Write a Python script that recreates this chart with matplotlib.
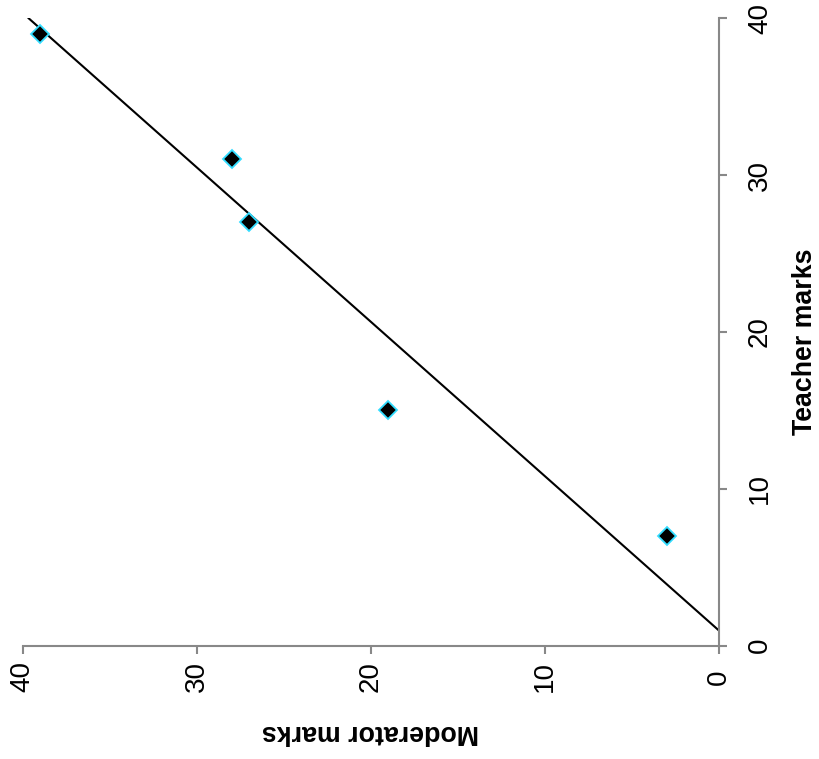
import numpy as np
import matplotlib
matplotlib.use("Agg")
from matplotlib import pyplot as plt

# Teacher vs moderator marks (chart shown turned 90 degrees)
teacher = [39, 31, 27, 15, 7]
moderator = [39, 28, 27, 19, 3]
ticks = [0, 10, 20, 30, 40]

plt.rcParams['font.family'] = ['Liberation Sans', 'DejaVu Sans']

fig = plt.figure(figsize=(8.2, 7.59), dpi=100)
ax = fig.add_axes([0.0277, 0.1493, 0.8491, 0.8266])

# linear trendline moderator = a*teacher + b, drawn over the teacher range
pend, orden = np.polyfit(teacher, moderator, 1)
t_line = np.array([0, 40])
ax.plot(pend * t_line + orden, t_line, color='black', lw=1.5, zorder=2)

ax.plot(moderator, teacher, linestyle='none', marker='D', markersize=9.5,
        markerfacecolor='black', markeredgecolor='#33DDFF', markeredgewidth=1.3,
        zorder=3, clip_on=False)

ax.set_xlim(40, 0)
ax.set_ylim(0, 40)
ax.set_xticks(ticks)
ax.set_yticks(ticks)

ax.spines['top'].set_visible(False)
ax.spines['left'].set_visible(False)
for s in ['right', 'bottom']:
    ax.spines[s].set_color('#888888')
    ax.spines[s].set_linewidth(1.5)

ax.yaxis.tick_right()
ax.tick_params(axis='both', direction='out', length=5.5, width=1.5, color='#888888',
               labelsize=20)
for lab in ax.get_xticklabels() + ax.get_yticklabels():
    lab.set_rotation(90)
    lab.set_va('center')
    lab.set_ha('center')
ax.tick_params(axis='x', pad=17)
ax.tick_params(axis='y', pad=24)

fig.text(805 / 820, 1 - 342 / 759, 'Teacher marks', rotation=90, fontsize=19.3,
         fontweight='bold', ha='center', va='center')
fig.text(370 / 820, 1 - 732 / 759, 'Moderator marks', rotation=180, fontsize=19.3,
         fontweight='bold', ha='center', va='center')

fig.savefig('out.png', dpi=100)
